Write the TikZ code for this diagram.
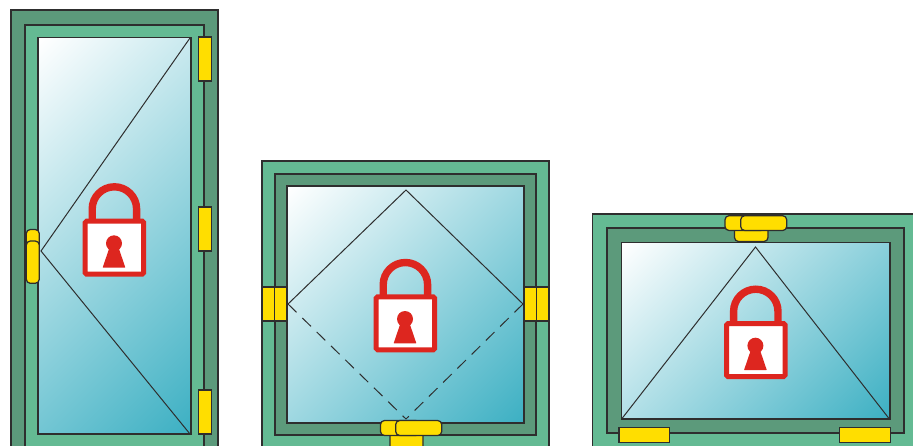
\documentclass[tikz,border=0pt]{standalone}
\definecolor{framedark}{HTML}{5C9A7B}
\definecolor{framelight}{HTML}{64BA93}
\definecolor{fitting}{HTML}{FFDE00}
\definecolor{lockred}{HTML}{DD261F}
\definecolor{glassteal}{HTML}{3DB0C3}
\definecolor{edge}{HTML}{2E2E2E}
\pgfdeclareverticalshading{glassfade}{100bp}{color(0bp)=(glassteal); color(15bp)=(glassteal); color(85bp)=(white); color(100bp)=(white)}
\tikzset{
  padlock/.pic={
    \draw[lockred,line width=7.4pt] (-22.2,3) -- (-22.2,-9.3) arc[start angle=180,end angle=360,radius=22.2] -- (22.2,3);
    \draw[lockred,fill=white,line width=5pt,rounded corners=1.5pt] (-29.2,2.8) rectangle (29.2,55.9);
    \fill[lockred] (-0.4,25) circle[radius=8];
    \fill[lockred,rounded corners=0.5pt] (-4.5,28) -- (3.7,28) -- (11,49.4) -- (-11.8,49.4) -- cycle;
  }
}
\begin{document}
\begin{tikzpicture}[x=1pt,y=-1pt,line width=1.25pt]
  \tikzstyle{dark}=[draw=edge,fill=framedark]
  \tikzstyle{light}=[draw=edge,fill=framelight]
  \tikzstyle{glass}=[draw=edge,shading=glassfade,shading angle=45]
  \tikzstyle{hinge}=[draw=edge,fill=fitting]
  \tikzstyle{grip}=[draw=edge,fill=fitting,rounded corners=4pt]
  \tikzstyle{sash}=[draw=edge,line width=1pt]
  \clip (0,0) rectangle (913,445);
  % door
  \draw[dark] (11,10) rectangle (218,460);
  \draw[light] (25,25) rectangle (204,460);
  \draw[glass] (38,37.5) rectangle (191,434);
  \draw[hinge] (198.3,37) rectangle (211.5,81);
  \draw[hinge] (198.3,207) rectangle (211.5,251);
  \draw[hinge] (198.3,390) rectangle (211.5,434);
  \draw[grip] (26.3,229.5) rectangle (39.3,262);
  \draw[grip] (26.3,241) rectangle (39.3,283.3);
  \coordinate (DT) at (190,38);
  \coordinate (DL) at (41,251);
  \coordinate (DB) at (190,434);
  \draw[sash] (DT) -- (DL) -- (DB);
  \pic at (114.4,218.3) {padlock};
  % square window
  \draw[light] (262,161) rectangle (549,460);
  \draw[dark] (275,174) rectangle (536,435);
  \draw[glass] (287,186) rectangle (524,423);
  \draw[hinge] (262,287) rectangle (287,321);
  \draw[hinge] (524,287) rectangle (549,321);
  \draw[edge] (274.5,287) -- (274.5,321);
  \draw[edge] (536.5,287) -- (536.5,321);
  \draw[grip] (390,430) rectangle (423,455);
  \draw[grip] (380.5,420.5) rectangle (420,435.5);
  \draw[grip] (395.7,420.5) rectangle (441.7,435.5);
  \coordinate (SL) at (288,304);
  \coordinate (ST) at (406,190);
  \coordinate (SR) at (523,304);
  \coordinate (SB) at (406,419);
  \draw[sash] (SL) -- (ST) -- (SR);
  \draw[sash,dash pattern=on 12pt off 8pt] (SL) -- (SB);
  \draw[sash,dash pattern=on 12pt off 8pt] (SR) -- (SB);
  \pic at (405.4,294) {padlock};
  % wide window
  \draw[light] (592.5,214) rectangle (930,460);
  \draw[dark] (607,228) rectangle (904,433);
  \draw[glass] (621.5,242.5) rectangle (890,419);
  \draw[grip] (734.5,225) rectangle (768,241.5);
  \draw[grip] (725,215.7) rectangle (765,230.5);
  \draw[grip] (740.7,215.7) rectangle (786.7,230.5);
  \draw[hinge] (619,427.7) rectangle (669.7,442.7);
  \draw[hinge] (839.3,427.7) rectangle (890.3,442.7);
  \coordinate (WT) at (755.5,247);
  \coordinate (WL) at (622,418.5);
  \coordinate (WR) at (889,418.5);
  \draw[sash] (WL) -- (WT) -- (WR);
  \pic at (755.8,320.7) {padlock};
\end{tikzpicture}
\end{document}
